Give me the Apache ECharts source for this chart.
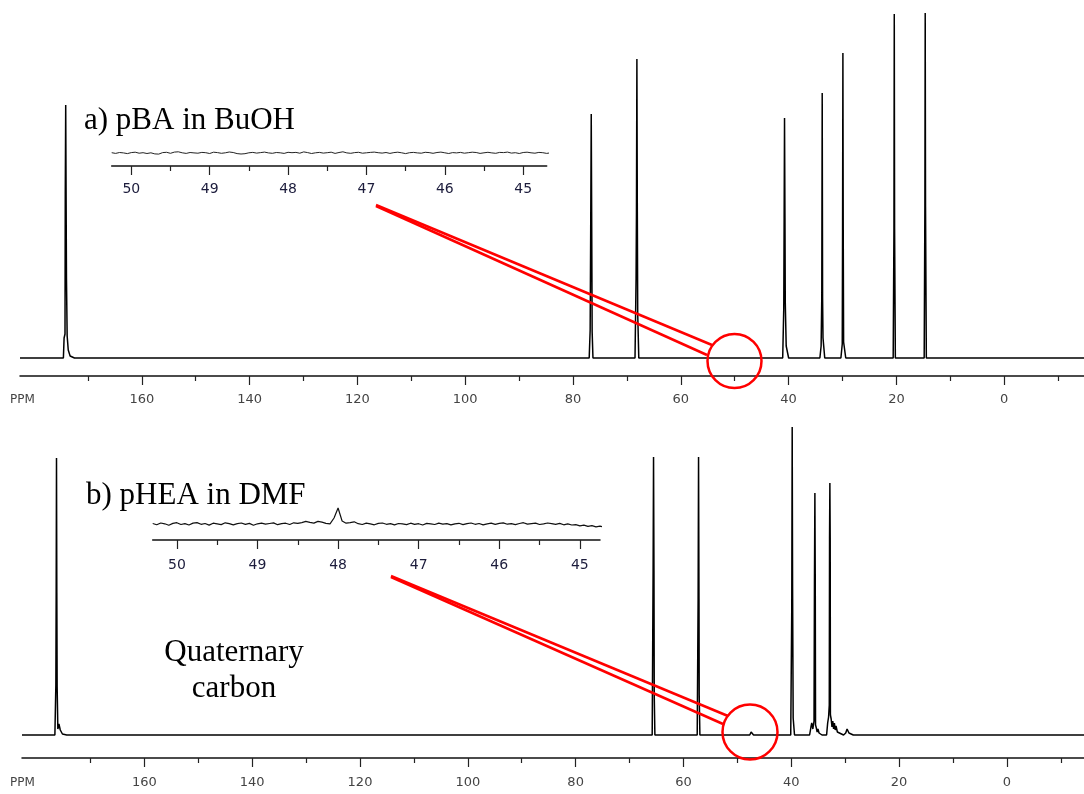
<!DOCTYPE html>
<html>
<head>
<meta charset="utf-8">
<script src="https://cdn.jsdelivr.net/npm/echarts@6/dist/echarts.min.js"></script>
<style>html,body{margin:0;padding:0;background:#fff;}</style>
</head>
<body>
<div id="main" style="width:1084px;height:794px;"></div>
<script type="text/javascript">
// a) pBA in BuOH  -- [ppm, intensity]
var specA = [
    [182.6, 0],
    [174.55, 0], [174.42, 20], [174.25, 24], [174.2, 165], [174.12, 253], [174.05, 165], [173.98, 80], [173.85, 22], [173.65, 8], [173.3, 2], [172.5, 0],
    [77.0, 0], [76.82, 28], [76.72, 128], [76.62, 244], [76.53, 128], [76.45, 26], [76.3, 0],
    [68.5, 0], [68.3, 80], [68.23, 146], [68.15, 299], [68.07, 146], [68.0, 45], [67.8, 0],
    [41.1, 0], [40.9, 50], [40.83, 140], [40.76, 240], [40.68, 140], [40.62, 55], [40.45, 12], [40.0, 0],
    [34.2, 0], [33.97, 12], [33.85, 60], [33.77, 265], [33.7, 60], [33.62, 20], [33.3, 0],
    [30.3, 0], [30.05, 14], [29.99, 128], [29.93, 305], [29.87, 128], [29.8, 16], [29.4, 0],
    [20.6, 0], [20.46, 129], [20.4, 344], [20.34, 129], [20.2, 0],
    [14.85, 0], [14.72, 151], [14.66, 345], [14.6, 151], [14.45, 0],
    [-14.8, 0]
];
// b) pHEA in DMF
var specB = [
    [182.7, 0],
    [176.6, 0], [176.42, 50], [176.36, 142], [176.3, 277], [176.24, 142], [176.18, 48], [176.05, 6], [175.85, 11], [175.6, 5], [175.2, 1], [174.4, 0],
    [65.8, 0], [65.63, 164], [65.55, 278], [65.47, 164], [65.42, 40], [65.3, 0],
    [57.45, 0], [57.28, 136], [57.2, 278], [57.12, 136], [57.08, 40], [56.95, 0],
    [47.7, 0], [47.45, 3], [47.35, 4], [47.25, 3], [47.0, 0],
    [40.1, 0], [39.91, 127], [39.83, 308], [39.76, 150], [39.65, 17], [39.4, 0],
    [36.6, 0], [36.35, 8], [36.2, 12], [36.0, 6], [35.78, 14], [35.7, 152], [35.62, 242], [35.55, 152], [35.5, 10], [35.35, 7], [35.2, 3], [35.05, 6], [34.85, 2], [34.3, 0],
    [33.45, 0], [33.25, 12], [33.08, 18], [32.95, 30], [32.9, 197], [32.84, 252], [32.78, 197], [32.74, 20], [32.6, 16], [32.45, 8], [32.3, 14], [32.15, 6], [32.0, 12], [31.85, 5], [31.7, 9], [31.45, 3], [31.1, 1], [30.3, 0],
    [29.9, 2], [29.65, 6], [29.3, 2], [28.5, 0],
    [-14.3, 0]
];

var majorTicks = [160, 140, 120, 100, 80, 60, 40, 20, 0];
var minorTicks = [170, 150, 130, 110, 90, 70, 50, 30, 10, -10];
var insetMajor = [50, 49, 48, 47, 46, 45];
var insetMinor = [49.5, 48.5, 47.5, 46.5, 45.5];

// inset noise, sampled every 0.05 ppm from the left edge of each inset
var noiseAStart = 50.25, noiseBStart = 50.30, noiseStep = 0.05;
var noiseA = [0.3, -0.4, 0.5, 0.1, -0.6, 0.4, 0.8, -0.2, 0.3, -0.5,
    0.2, -0.9, -1.1, 0.4, 0.7, -0.3, 0.9, 1.2, 0.2, -0.4,
    0.5, 0.1, -0.2, 0.6, 0.3, -0.5, 0.8, 0.4, -0.3, 0.2,
    1.0, 0.5, -0.6, -1.0, -0.7, 0.2, 0.6, -0.1, 0.4, 0.9,
    0.1, -0.3, 0.5, 0.2, -0.4, 0.7, 0.3, 0.6, -0.2, 1.1,
    0.4, -0.5, 0.2, 0.6, -0.1, 0.3, 0.8, -0.4, 0.5, 1.2,
    0.1, -0.3, 0.4, 0.7, -0.2, 0.2, 0.6, 0.9, 0.3, -0.1,
    0.5, -0.4, 0.4, 0.8, 0.2, -0.6, 0.3, 0.6, 0.1, -0.2,
    0.7, 0.4, -0.3, 0.5, 0.9, 0.2, -0.5, 0.4, 0.1, 0.6,
    -0.2, 0.3, 0.8, 0.5, -0.4, 0.2, 0.7, 0.1, -0.3, 0.6,
    0.4, 0.9, -0.1, 0.3, -0.5, 0.5, 0.8, 0.2, -0.2, 0.6,
    0.3, -0.4, 0.2, 0.5];
var noiseB = [0.5, -0.8, 1.0, 0.2, -1.2, 0.6, 1.3, -0.5, 0.4, -1.0,
    0.9, 1.4, -0.3, 0.5, -1.1, 0.8, 0.2, -0.6, 1.2, 0.4,
    -0.9, 0.3, 1.0, -0.4, 0.6, -1.3, 0.2, 0.9, -0.2, 0.5,
    1.1, -0.7, 0.3, 0.8, -0.5, 1.2, 0.6, 1.4, 2.6, 1.6,
    0.9, 2.6, 1.8, 0.6, 0.2, 6, 16, 3, 0.8, 1.4,
    2.2, 0.3, -0.5, 0.9, 0.2, -0.8, 0.6, 1.0, -0.3, 0.4,
    -0.9, 0.5, 0.2, -0.6, 0.8, -0.4, 0.3, -1.0, 0.6, 0.1,
    -0.5, 0.9, -0.2, 0.4, -0.8, 0.2, 0.7, -0.6, 0.3, 1.0,
    -0.3, 0.5, -0.9, 0.2, 0.8, -0.4, 0.6, 1.1, -0.2, 0.3,
    -0.7, 0.5, 1.3, -0.1, 0.4, 0.9, -0.5, 0.2, 1.0, 0.3,
    -0.4, 0.6, -0.8, 0.1, -1.0, -0.6, -1.8, -1.2, -2.4, -1.6,
    -2.8, -2.2, -3.0, -2.6];

function toPairs(start, vals) {
    return vals.map(function (v, i) { return [start - i * noiseStep, v]; });
}

var myChart = echarts.init(document.getElementById('main'));

function majorAxis(grid, min, max, ticks, margin, labelStyle) {
    return {
        type: 'value', gridIndex: grid, position: 'bottom', inverse: true,
        min: min, max: max,
        axisLine: { show: true, onZero: false, lineStyle: { color: '#111', width: 1.5 } },
        axisTick: { show: true, customValues: ticks, length: 9, lineStyle: { color: '#222', width: 1.2 } },
        axisLabel: Object.assign({ show: true, customValues: ticks, margin: margin }, labelStyle),
        splitLine: { show: false }
    };
}
function minorAxis(grid, min, max, ticks) {
    return {
        type: 'value', gridIndex: grid, position: 'bottom', inverse: true,
        min: min, max: max,
        axisLine: { show: false, onZero: false },
        axisTick: { show: true, customValues: ticks, length: 5, lineStyle: { color: '#222', width: 1.2 } },
        axisLabel: { show: false },
        splitLine: { show: false }
    };
}
function hiddenY(grid, min, max) {
    return { type: 'value', gridIndex: grid, min: min, max: max, show: false };
}

var mainLabel = { fontFamily: 'DejaVu Sans', fontSize: 13, color: '#444' };
var insetLabel = { fontFamily: 'DejaVu Sans', fontSize: 14, color: '#1c1c3c' };

myChart.setOption({
    animation: false,
    grid: [
        { left: 20, top: 0, width: 1064, height: 376 },
        { left: 22, top: 420, width: 1062, height: 338 },
        { left: 111.7, top: 120, width: 435, height: 46 },
        { left: 152.7, top: 490, width: 447.3, height: 50 }
    ],
    xAxis: [
        majorAxis(0, -14.8, 182.6, majorTicks, 17, mainLabel),
        minorAxis(0, -14.8, 182.6, minorTicks),
        majorAxis(1, -14.3, 182.7, majorTicks, 18, mainLabel),
        minorAxis(1, -14.3, 182.7, minorTicks),
        majorAxis(2, 44.7, 50.25, insetMajor, 16, insetLabel),
        minorAxis(2, 44.7, 50.25, insetMinor),
        majorAxis(3, 44.75, 50.30, insetMajor, 18, insetLabel),
        minorAxis(3, 44.75, 50.30, insetMinor)
    ],
    yAxis: [
        hiddenY(0, -18, 358),
        hiddenY(1, -23, 315),
        hiddenY(2, -13, 33),
        hiddenY(3, -16, 34)
    ],
    series: [
        { type: 'line', xAxisIndex: 0, yAxisIndex: 0, data: specA, showSymbol: false, lineStyle: { color: '#000', width: 1.5 } },
        { type: 'line', xAxisIndex: 2, yAxisIndex: 1, data: specB, showSymbol: false, lineStyle: { color: '#000', width: 1.5 } },
        { type: 'line', xAxisIndex: 4, yAxisIndex: 2, data: toPairs(noiseAStart, noiseA), showSymbol: false, lineStyle: { color: '#222', width: 1 } },
        { type: 'line', xAxisIndex: 6, yAxisIndex: 3, data: toPairs(noiseBStart, noiseB), showSymbol: false, lineStyle: { color: '#111', width: 1.2 } }
    ],
    graphic: [
        { type: 'text', x: 10, y: 400, style: { text: 'PPM', font: '12px "DejaVu Sans"', fill: '#444', textVerticalAlign: 'middle' } },
        { type: 'text', x: 10, y: 783, style: { text: 'PPM', font: '12px "DejaVu Sans"', fill: '#444', textVerticalAlign: 'middle' } },
        { type: 'text', x: 84, y: 121, style: { text: 'a) pBA in BuOH', font: '31px "Liberation Serif"', fill: '#000', textVerticalAlign: 'middle' } },
        { type: 'text', x: 86, y: 496, style: { text: 'b) pHEA in DMF', font: '31px "Liberation Serif"', fill: '#000', textVerticalAlign: 'middle' } },
        { type: 'text', x: 234, y: 653, style: { text: 'Quaternary', font: '31px "Liberation Serif"', fill: '#000', textAlign: 'center', textVerticalAlign: 'middle' } },
        { type: 'text', x: 234, y: 689, style: { text: 'carbon', font: '31px "Liberation Serif"', fill: '#000', textAlign: 'center', textVerticalAlign: 'middle' } },
        // callouts
        { type: 'circle', z: 100, shape: { cx: 734.5, cy: 361, r: 27 }, style: { fill: null, stroke: '#f00', lineWidth: 2.5 } },
        { type: 'polyline', z: 100, shape: { points: [[376, 205], [712, 345]] }, style: { stroke: '#f00', lineWidth: 2.5, fill: null } },
        { type: 'polyline', z: 100, shape: { points: [[376, 206], [707, 355]] }, style: { stroke: '#f00', lineWidth: 2.5, fill: null } },
        { type: 'circle', z: 100, shape: { cx: 750, cy: 732, r: 27.5 }, style: { fill: null, stroke: '#f00', lineWidth: 2.5 } },
        { type: 'polyline', z: 100, shape: { points: [[391, 576], [728, 716]] }, style: { stroke: '#f00', lineWidth: 2.5, fill: null } },
        { type: 'polyline', z: 100, shape: { points: [[391, 577], [723, 724]] }, style: { stroke: '#f00', lineWidth: 2.5, fill: null } }
    ]
});
</script>
</body>
</html>
